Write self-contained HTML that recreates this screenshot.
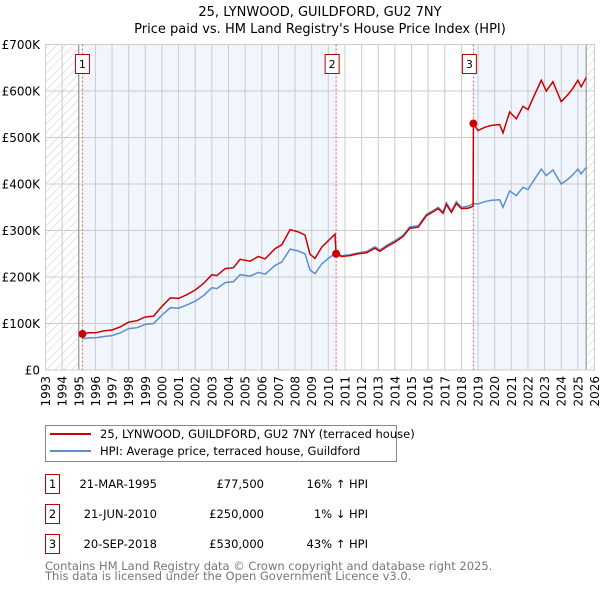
<!DOCTYPE html>
<html><head><meta charset="utf-8"><style>
body{margin:0;background:#fff;font-family:"DejaVu Sans","Liberation Sans",sans-serif;}
svg text{font-family:"DejaVu Sans","Liberation Sans",sans-serif;}
</style></head><body>
<svg id="c" width="600" height="590" xmlns="http://www.w3.org/2000/svg">
<defs><pattern id="hatch" width="6" height="6" patternUnits="userSpaceOnUse" patternTransform="rotate(45)"><line x1="0" y1="0" x2="0" y2="6" stroke="#ccc" stroke-width="1"/></pattern></defs>
<text x="320" y="16" text-anchor="middle" font-size="13">25, LYNWOOD, GUILDFORD, GU2 7NY</text>
<text x="320" y="33" text-anchor="middle" font-size="13">Price paid vs. HM Land Registry's House Price Index (HPI)</text>
<g id="plot"></g>
<g>
<rect x="45.5" y="425.5" width="351" height="36" fill="#fff" stroke="#888"/>
<line x1="50" y1="434" x2="91" y2="434" stroke="#cc0000" stroke-width="2"/>
<text x="100" y="438" font-size="11.5">25, LYNWOOD, GUILDFORD, GU2 7NY (terraced house)</text>
<line x1="50" y1="451" x2="91" y2="451" stroke="#5b8fd0" stroke-width="2"/>
<text x="100" y="455" font-size="11.5">HPI: Average price, terraced house, Guildford</text>
</g>
<g id="table" font-size="11.5"></g>
<text x="45" y="570" font-size="11.5" fill="#777">Contains HM Land Registry data © Crown copyright and database right 2025.</text>
<text x="45" y="580" font-size="11.5" fill="#777">This data is licensed under the Open Government Licence v3.0.</text>
</svg>
<script>
const dates=[1995.2,1995.6,1996.0,1996.5,1997.0,1997.5,1998.0,1998.5,1999.0,1999.5,2000.0,2000.5,2001.0,2001.5,2002.0,2002.5,2003.0,2003.3,2003.8,2004.3,2004.7,2005.3,2005.8,2006.2,2006.8,2007.2,2007.7,2008.2,2008.6,2008.9,2009.2,2009.6,2010.0,2010.47,2010.8,2011.3,2011.8,2012.3,2012.8,2013.1,2013.5,2014.0,2014.5,2014.9,2015.4,2015.9,2016.3,2016.6,2016.9,2017.1,2017.4,2017.7,2018.0,2018.4,2018.72,2019.0,2019.4,2019.8,2020.3,2020.5,2020.9,2021.3,2021.7,2022.0,2022.3,2022.8,2023.1,2023.5,2024.0,2024.4,2024.7,2025.0,2025.2,2025.5];
const hpi=[67,69,69,72,74,80,89,91,98,100,118,134,133,140,148,160,177,175,188,190,205,202,210,206,225,232,260,256,250,215,207,228,240,252,246,248,252,255,265,258,268,278,290,308,310,335,343,350,340,360,342,362,350,352,358,357,362,365,366,350,385,375,393,388,405,432,418,430,400,410,420,432,422,436];
const redDates=[1995.2,1995.6,1996.0,1996.5,1997.0,1997.5,1998.0,1998.5,1999.0,1999.5,2000.0,2000.5,2001.0,2001.5,2002.0,2002.5,2003.0,2003.3,2003.8,2004.3,2004.7,2005.3,2005.8,2006.2,2006.8,2007.2,2007.7,2008.2,2008.6,2008.9,2009.2,2009.6,2010.0,2010.4,2010.47,2010.8,2011.3,2011.8,2012.3,2012.8,2013.1,2013.5,2014.0,2014.5,2014.9,2015.4,2015.9,2016.3,2016.6,2016.9,2017.1,2017.4,2017.7,2018.0,2018.4,2018.7,2018.72,2019.0,2019.4,2019.8,2020.3,2020.5,2020.9,2021.3,2021.7,2022.0,2022.3,2022.8,2023.1,2023.5,2024.0,2024.4,2024.7,2025.0,2025.2,2025.5];
const red=[77.5,80,80,84,86,93,103,106,114,116,137,155,154,162,172,186,205,203,218,220,238,234,244,239,261,269,302,297,290,249,240,264,278,292,250,244,246,250,252,262,255,265,275,287,305,307,332,340,347,337,356,339,358,347,348,352,530,515,522,526,528,510,555,540,567,560,584,623,600,620,577,592,606,623,609,629];
const saleDates=[1995.22,2010.47,2018.72];
const salePrices=[77.5,250,530];
const saleLabels=["1","2","3"];
const saleDateText=["21-MAR-1995","21-JUN-2010","20-SEP-2018"];
const salePriceText=["£77,500","£250,000","£530,000"];
const saleHpiText=["16% ↑ HPI","1% ↓ HPI","43% ↑ HPI"];
const yTicks=[0,100,200,300,400,500,600,700];
const yTickLabels=["£0","£100K","£200K","£300K","£400K","£500K","£600K","£700K"];

const NS="http://www.w3.org/2000/svg";
const X0=45.5,X1=594.5,Y0=370,Y1=44.5,T0=1993,T1=2026,V1=700;
const xs=t=>X0+(t-T0)/(T1-T0)*(X1-X0);
const ys=v=>Y0-v/V1*(Y0-Y1);
const g=document.getElementById('plot');
function mk(tag,attrs,parent){const e=document.createElementNS(NS,tag);for(const k in attrs)e.setAttribute(k,attrs[k]);(parent||g).appendChild(e);return e;}
let e;
e=mk('rect',{x:X0,y:Y1,width:X1-X0,height:Y0-Y1,fill:'#fff'});


e=mk('rect',{x:xs(saleDates[0]),y:Y1,width:xs(saleDates[1])-xs(saleDates[0]),height:Y0-Y1,fill:'#f1f5fd'});


e=mk('rect',{x:xs(saleDates[2]),y:Y1,width:xs(2025.5)-xs(saleDates[2]),height:Y0-Y1,fill:'#f1f5fd'});


e=mk('rect',{x:X0,y:Y1,width:xs(1995)-X0,height:Y0-Y1,fill:'url(#hatch)'});


e=mk('rect',{x:xs(2025.5),y:Y1,width:X1-xs(2025.5),height:Y0-Y1,fill:'url(#hatch)'});


for(let yr=T0;yr<=T1;yr++){
  e=mk('line',{x1:xs(yr),x2:xs(yr),y1:Y1,y2:Y0,stroke:'#ccc','stroke-width':1});
  
  
  e=mk('text',{x:0,y:0,'font-size':12,'text-anchor':'end',transform:`translate(${xs(yr)+4.5},${Y0+6}) rotate(-90)`});
  e.textContent=yr;
  
  
}
yTicks.forEach((v,i)=>{
  e=mk('line',{x1:X0,x2:X1,y1:ys(v),y2:ys(v),stroke:'#ccc','stroke-width':1});
  
  
  e=mk('text',{x:40,y:ys(v)+4.5,'font-size':12,'text-anchor':'end'});
  e.textContent=yTickLabels[i];
  
  
});
e=mk('line',{x1:xs(1995),x2:xs(1995),y1:Y1,y2:Y0,stroke:'#888'});


e=mk('line',{x1:xs(2025.5),x2:xs(2025.5),y1:Y1,y2:Y0,stroke:'#888'});


e=mk('rect',{x:X0,y:Y1,width:X1-X0,height:Y0-Y1,fill:'none',stroke:'#ccc'});


saleDates.forEach((d,i)=>{
  e=mk('line',{x1:xs(d),x2:xs(d),y1:Y1,y2:Y0,stroke:'#e06060','stroke-dasharray':'2,2'});
  
  
});
e=mk('path',{d:dates.map((t,i)=>(i?'L':'M')+xs(t).toFixed(1)+','+ys(hpi[i]).toFixed(1)).join(''),fill:'none',stroke:'#5b8fd0','stroke-width':1.5});


e=mk('path',{d:redDates.map((t,i)=>(i?'L':'M')+xs(t).toFixed(1)+','+ys(red[i]).toFixed(1)).join(''),fill:'none',stroke:'#cc0000','stroke-width':1.5});


saleDates.forEach((d,i)=>{
  e=mk('circle',{cx:xs(d),cy:ys(salePrices[i]),r:4,fill:'#cc0000'});
  
  
  const bx=xs(d)-7-(i==0?0:4);
  e=mk('rect',{x:bx,y:54.5,width:14,height:19,fill:'#fff',stroke:'#b00'});
  
  
  e=mk('text',{x:bx+7,y:68,'font-size':11,'text-anchor':'middle'});
  e.textContent=saleLabels[i];
  
  
});
const tb=document.getElementById('table');
saleLabels.forEach((l,i)=>{
  const y=483+i*30;
  e=mk('rect',{x:45.5,y:y-8.5,width:14,height:19,fill:'#fff',stroke:'#b00'},tb);
  
  
  e=mk('text',{x:52.5,y:y+5,'text-anchor':'middle'},tb);e.textContent=l;
  
  
  e=mk('text',{x:157,y:y+5,'text-anchor':'end'},tb);e.textContent=saleDateText[i];
  
  
  e=mk('text',{x:264,y:y+5,'text-anchor':'end'},tb);e.textContent=salePriceText[i];
  
  
  e=mk('text',{x:368,y:y+5,'text-anchor':'end'},tb);e.textContent=saleHpiText[i];
  
  
});
</script>
</body></html>
